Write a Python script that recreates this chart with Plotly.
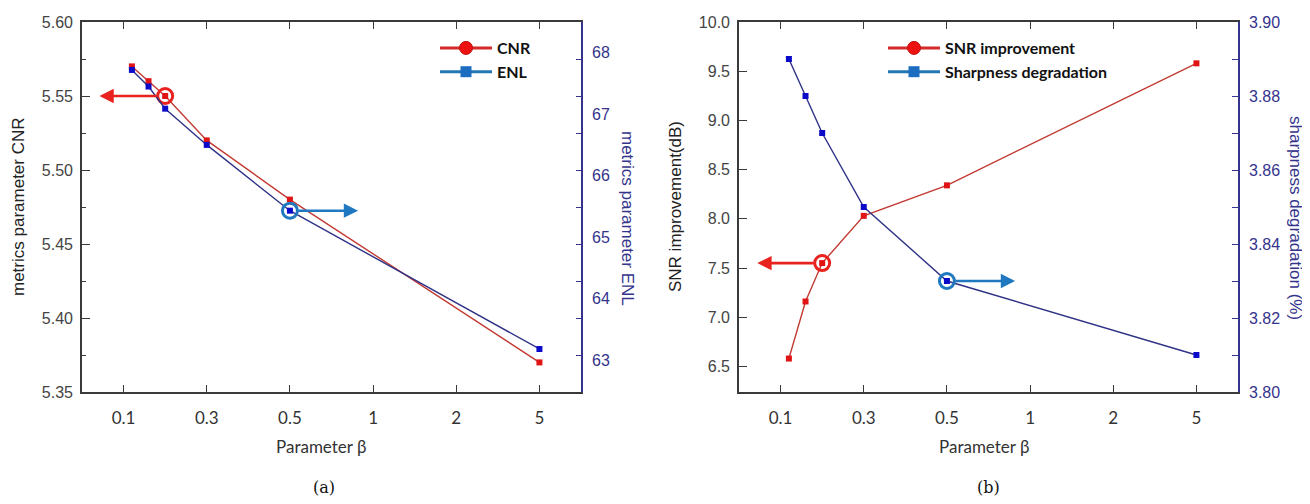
import numpy as np
import plotly.graph_objects as go

# ---------------- data ----------------
beta = [0.12, 0.16, 0.2, 0.3, 0.5, 5]
beta_ticks = [0.1, 0.3, 0.5, 1, 2, 5]
beta_tick_text = ["0.1", "0.3", "0.5", "1", "2", "5"]

cnr = [5.57, 5.56, 5.55, 5.52, 5.48, 5.37]
enl = [67.72, 67.45, 67.09, 66.50, 65.43, 63.18]
snr = [6.58, 7.16, 7.55, 8.03, 8.34, 9.58]
sharp = [3.89, 3.88, 3.87, 3.85, 3.83, 3.81]

hl_left = 2    # highlighted point (beta = 0.2) on left-axis series
hl_right = 4   # highlighted point (beta = 0.5) on right-axis series

# piecewise (index-based) beta scale as in the original figure
tick_pos = list(range(len(beta_ticks)))
pos = list(np.interp(beta, beta_ticks, tick_pos))

# page is 1310x504; the html body adds an 8px margin, so the figure is drawn 8px in
PAGE_W, PAGE_H = 1310, 504
OX, OY = 8, 8
W, H = PAGE_W - OX, PAGE_H - OY


def px(x):
    return (x - OX) / W


def py(y):
    return 1 - (y - OY) / H


RED_LINE = "#c23a32"
RED_MK = "#e01414"
RED_HI = "#e8221e"
NAVY_LINE = "#2f3286"
BLUE_MK = "#0a0ac8"
BLUE_HI = "#1f78c0"
NAVY_AX = "#34348c"
AXC = "#3a3a3a"

fig = go.Figure()


def ring(x, y, xa, ya, color):
    return go.Scatter(x=x, y=y, xaxis=xa, yaxis=ya, mode="markers",
                      marker=dict(symbol="circle-open", size=15, color=color, line=dict(width=3, color=color)),
                      showlegend=False)


# ---- (a) ----
fig.add_trace(go.Scatter(x=pos, y=enl, xaxis="x", yaxis="y2", mode="lines+markers",
                         line=dict(color=NAVY_LINE, width=1.4),
                         marker=dict(symbol="square", size=6, color=BLUE_MK),
                         showlegend=False))
fig.add_trace(go.Scatter(x=pos, y=cnr, xaxis="x", yaxis="y", mode="lines+markers",
                         line=dict(color=RED_LINE, width=1.4),
                         marker=dict(symbol="square", size=6, color=RED_MK),
                         showlegend=False))
fig.add_trace(ring([pos[hl_left]], [cnr[hl_left]], "x", "y", RED_HI))
fig.add_trace(ring([pos[hl_right]], [enl[hl_right]], "x", "y2", BLUE_HI))
# legend entries (a)
fig.add_trace(go.Scatter(x=[None], y=[None], xaxis="x", yaxis="y", mode="lines+markers", name="CNR",
                         line=dict(color="#d42a2a", width=3),
                         marker=dict(symbol="circle", size=13, color="#ee1111", line=dict(color="#c01010", width=1)),
                         legend="legend"))
fig.add_trace(go.Scatter(x=[None], y=[None], xaxis="x", yaxis="y", mode="lines+markers", name="ENL",
                         line=dict(color="#2277b4", width=3),
                         marker=dict(symbol="square", size=11, color="#1c6fc0"),
                         legend="legend"))

# ---- (b) ----
fig.add_trace(go.Scatter(x=pos, y=sharp, xaxis="x2", yaxis="y5", mode="lines+markers",
                         line=dict(color=NAVY_LINE, width=1.4),
                         marker=dict(symbol="square", size=6, color=BLUE_MK),
                         showlegend=False))
fig.add_trace(go.Scatter(x=pos, y=snr, xaxis="x2", yaxis="y4", mode="lines+markers",
                         line=dict(color=RED_LINE, width=1.4),
                         marker=dict(symbol="square", size=6, color=RED_MK),
                         showlegend=False))
fig.add_trace(ring([pos[hl_left]], [snr[hl_left]], "x2", "y4", RED_HI))
fig.add_trace(ring([pos[hl_right]], [sharp[hl_right]], "x2", "y5", BLUE_HI))
fig.add_trace(go.Scatter(x=[None], y=[None], xaxis="x2", yaxis="y4", mode="lines+markers", name="SNR improvement",
                         line=dict(color="#d42a2a", width=3),
                         marker=dict(symbol="circle", size=13, color="#ee1111", line=dict(color="#c01010", width=1)),
                         legend="legend2"))
fig.add_trace(go.Scatter(x=[None], y=[None], xaxis="x2", yaxis="y4", mode="lines+markers", name="Sharpness degradation",
                         line=dict(color="#2277b4", width=3),
                         marker=dict(symbol="square", size=11, color="#1c6fc0"),
                         legend="legend2"))
# dummy trace to activate yaxis3 (right-side tick marks of panel a)
fig.add_trace(go.Scatter(x=[None], y=[None], xaxis="x", yaxis="y3", showlegend=False))

ydom = [py(392), py(22)]
xdom_a = [px(82), px(581)]
xdom_b = [px(739), px(1238)]

tickfont_y = dict(family="Arial, Liberation Sans", size=16, color="#444444")
tickfont_r = dict(family="Arial, Liberation Sans", size=16, color=NAVY_AX)
tickfont_x = dict(family="Lato", size=17, color="#333333")


def xaxis_def(dom, anchor):
    return dict(domain=dom, anchor=anchor, range=[-0.5, 5.5], tickvals=tick_pos, ticktext=beta_tick_text,
                ticks="inside", ticklen=7, tickwidth=1.3, tickcolor=AXC, showline=True, linecolor=AXC,
                linewidth=1.6, mirror="ticks", showgrid=False, zeroline=False, tickfont=tickfont_x,
                ticklabelstandoff=10, automargin=False)


def yleft_def(anchor, rng, dtick, fmt, minor):
    d = dict(domain=ydom, anchor=anchor, range=rng, dtick=dtick, tickformat=fmt, ticks="inside", ticklen=8,
             tickwidth=1.3, tickcolor=AXC, showline=True, linecolor=AXC, linewidth=1.6, showgrid=False,
             zeroline=False, tickfont=tickfont_y, ticklabelstandoff=4, automargin=False)
    if minor:
        d["minor"] = dict(dtick=minor, ticks="inside", ticklen=4, tickcolor=AXC, showgrid=False)
    return d


legend_font = dict(family="Lato", size=16, color="#111111", weight="bold")

fig.update_layout(
    template="none",
    width=W, height=H, margin=dict(l=0, r=0, t=0, b=0, autoexpand=False),
    plot_bgcolor="white", paper_bgcolor="white",
    xaxis=xaxis_def(xdom_a, "y"),
    yaxis=yleft_def("x", [5.35, 5.60], 0.05, ".2f", 0.025),
    yaxis2=dict(overlaying="y", side="right", anchor="x", range=[62.48, 68.5], dtick=1, ticks="",
                showline=True, linecolor=NAVY_AX, linewidth=1.6, showgrid=False, zeroline=False,
                tickfont=tickfont_r, ticklabelstandoff=6, automargin=False),
    yaxis3=dict(overlaying="y", side="right", anchor="x", range=[5.35, 5.60], dtick=0.025, ticks="inside",
                ticklen=5, tickcolor=NAVY_AX, showticklabels=False, showline=False, showgrid=False,
                zeroline=False, automargin=False),
    xaxis2=xaxis_def(xdom_b, "y4"),
    yaxis4=yleft_def("x2", [6.24, 10.0], 0.5, ".1f", None),
    yaxis5=dict(overlaying="y4", side="right", anchor="x2", range=[3.80, 3.90], dtick=0.02, tickformat=".2f",
                ticks="inside", ticklen=6, tickcolor=NAVY_AX, showline=True, linecolor=NAVY_AX, linewidth=1.6,
                showgrid=False, zeroline=False, tickfont=tickfont_r, ticklabelstandoff=6, automargin=False,
                minor=dict(dtick=0.01, ticks="inside", ticklen=6, tickcolor=NAVY_AX, showgrid=False)),
    legend=dict(x=px(435), y=py(31), xanchor="left", yanchor="top", bgcolor="rgba(0,0,0,0)",
                font=legend_font, tracegroupgap=0, itemwidth=52),
    legend2=dict(x=px(883), y=py(31), xanchor="left", yanchor="top", bgcolor="rgba(0,0,0,0)",
                 font=legend_font, tracegroupgap=0, itemwidth=52),
)

ann = []
# arrows
ann.append(dict(xref="x", yref="y", axref="x", ayref="y", x=pos[hl_left] - 0.79, y=cnr[hl_left],
                ax=pos[hl_left], ay=cnr[hl_left], text="", showarrow=True, arrowhead=2, arrowsize=1.1,
                arrowwidth=2.6, arrowcolor=RED_HI, startstandoff=7))
ann.append(dict(xref="x", yref="y2", axref="x", ayref="y2", x=pos[hl_right] + 0.82, y=enl[hl_right],
                ax=pos[hl_right], ay=enl[hl_right], text="", showarrow=True, arrowhead=2, arrowsize=1.1,
                arrowwidth=2.6, arrowcolor=BLUE_HI, startstandoff=7))
ann.append(dict(xref="x2", yref="y4", axref="x2", ayref="y4", x=pos[hl_left] - 0.78, y=snr[hl_left],
                ax=pos[hl_left], ay=snr[hl_left], text="", showarrow=True, arrowhead=2, arrowsize=1.1,
                arrowwidth=2.6, arrowcolor=RED_HI, startstandoff=7))
ann.append(dict(xref="x2", yref="y5", axref="x2", ayref="y5", x=pos[hl_right] + 0.82, y=sharp[hl_right],
                ax=pos[hl_right], ay=sharp[hl_right], text="", showarrow=True, arrowhead=2, arrowsize=1.1,
                arrowwidth=2.6, arrowcolor=BLUE_HI, startstandoff=7))

titlefont = dict(family="Arial, Liberation Sans", size=17, color="#222222")
titlefont_r = dict(family="Arial, Liberation Sans", size=17, color=NAVY_AX)


def txt(x, y, s, font, angle=0):
    ann.append(dict(xref="paper", yref="paper", x=px(x), y=py(y), text=s, showarrow=False, font=font,
                    textangle=angle, xanchor="center", yanchor="middle"))


txt(19, 207, "metrics parameter CNR", titlefont, -90)
txt(627, 218, "metrics parameter ENL", titlefont_r, 90)
txt(676, 207, "SNR improvement(dB)", titlefont, -90)
txt(1295, 218, "sharpness degradation (%)", titlefont_r, 90)
txt(321, 446, "Parameter β", dict(family="Lato", size=17, color="#333333"))
txt(984, 446, "Parameter β", dict(family="Lato", size=17, color="#333333"))
txt(324, 487, "(a)", dict(family="DejaVu Serif", size=16, color="#111111"))
txt(988, 487, "(b)", dict(family="DejaVu Serif", size=16, color="#111111"))

fig.update_layout(annotations=ann)
fig.write_html("out.html")
